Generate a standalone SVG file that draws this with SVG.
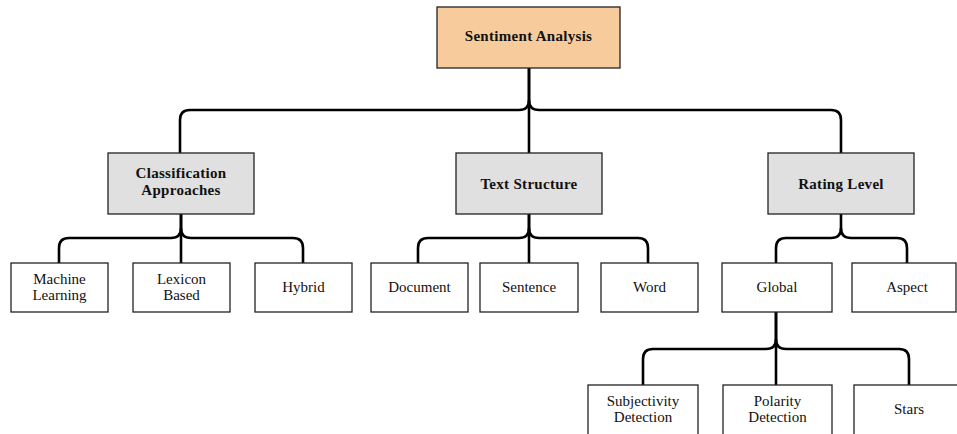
<svg xmlns="http://www.w3.org/2000/svg" width="957" height="434" viewBox="0 0 957 434">
  <style>
    .box { stroke: #222; stroke-width: 1.3; fill: #fff; }
    .root { fill: #f8cb9c; }
    .mid { fill: #e0e0e0; }
    .t { font-family: "Liberation Serif", "Times New Roman", serif; font-size: 15px; fill: #111; text-anchor: middle; }
    .b { font-weight: bold; letter-spacing: 0.3px; }
    .edge { fill: none; stroke: #000; stroke-width: 2.6; stroke-linejoin: round; }
  </style>
  <rect width="957" height="434" fill="#fff"/>

  <g id="connectors">
    <!-- root to level 2 -->
    <path class="edge" d="M529,68 V100 Q529,110 519,110 H190 Q180,110 180,120 V153"/>
    <path class="edge" d="M529,68 V153"/>
    <path class="edge" d="M529,100 Q529,110 539,110 H831 Q841,110 841,120 V153"/>
    <!-- Classification Approaches -->
    <path class="edge" d="M181,214 V228 Q181,238 171,238 H69 Q59,238 59,248 V263"/>
    <path class="edge" d="M181,214 V263"/>
    <path class="edge" d="M181,228 Q181,238 191,238 H293 Q303,238 303,248 V263"/>
    <!-- Text Structure -->
    <path class="edge" d="M529,214 V228 Q529,238 519,238 H428 Q418,238 418,248 V263"/>
    <path class="edge" d="M529,214 V263"/>
    <path class="edge" d="M529,228 Q529,238 539,238 H638 Q648,238 648,248 V263"/>
    <!-- Rating Level -->
    <path class="edge" d="M841,214 V228 Q841,238 831,238 H786 Q776,238 776,248 V263"/>
    <path class="edge" d="M841,228 Q841,238 851,238 H897 Q907,238 907,248 V263"/>
    <!-- Global -->
    <path class="edge" d="M776,312 V339 Q776,349 766,349 H653 Q643,349 643,359 V385"/>
    <path class="edge" d="M776,312 V385"/>
    <path class="edge" d="M776,339 Q776,349 786,349 H899 Q909,349 909,359 V385"/>
  </g>

  <g id="sentiment-analysis">
    <rect class="box root" x="437" y="7" width="183" height="61"/>
    <text class="t b" x="528.5" y="41">Sentiment Analysis</text>
  </g>

  <g id="classification-approaches">
    <rect class="box mid" x="108" y="153" width="146" height="61"/>
    <text class="t b" x="181" y="178">Classification</text>
    <text class="t b" x="181" y="195">Approaches</text>
  </g>
  <g id="text-structure">
    <rect class="box mid" x="456" y="153" width="146" height="61"/>
    <text class="t b" x="529" y="189">Text Structure</text>
  </g>
  <g id="rating-level">
    <rect class="box mid" x="768" y="153" width="146" height="61"/>
    <text class="t b" x="841" y="189">Rating Level</text>
  </g>

  <g id="machine-learning">
    <rect class="box" x="11" y="263" width="97" height="49"/>
    <text class="t" x="59.5" y="284">Machine</text>
    <text class="t" x="59.5" y="300">Learning</text>
  </g>
  <g id="lexicon-based">
    <rect class="box" x="133" y="263" width="97" height="49"/>
    <text class="t" x="181.5" y="284">Lexicon</text>
    <text class="t" x="181.5" y="300">Based</text>
  </g>
  <g id="hybrid">
    <rect class="box" x="255" y="263" width="97" height="49"/>
    <text class="t" x="303.5" y="292">Hybrid</text>
  </g>

  <g id="document">
    <rect class="box" x="371" y="263" width="97" height="49"/>
    <text class="t" x="419.5" y="292">Document</text>
  </g>
  <g id="sentence">
    <rect class="box" x="480" y="263" width="98" height="49"/>
    <text class="t" x="529" y="292">Sentence</text>
  </g>
  <g id="word">
    <rect class="box" x="601" y="263" width="97" height="49"/>
    <text class="t" x="649.5" y="292">Word</text>
  </g>

  <g id="global">
    <rect class="box" x="722" y="263" width="110" height="49"/>
    <text class="t" x="777" y="292">Global</text>
  </g>
  <g id="aspect">
    <rect class="box" x="852" y="263" width="104" height="49"/>
    <text class="t" x="907" y="292">Aspect</text>
  </g>

  <g id="subjectivity-detection">
    <rect class="box" x="588" y="385" width="110" height="60"/>
    <text class="t" x="643" y="406">Subjectivity</text>
    <text class="t" x="643" y="422">Detection</text>
  </g>
  <g id="polarity-detection">
    <rect class="box" x="723" y="385" width="109" height="60"/>
    <text class="t" x="777.5" y="406">Polarity</text>
    <text class="t" x="777.5" y="422">Detection</text>
  </g>
  <g id="stars">
    <rect class="box" x="854" y="385" width="110" height="60"/>
    <text class="t" x="909" y="414">Stars</text>
  </g>
</svg>
